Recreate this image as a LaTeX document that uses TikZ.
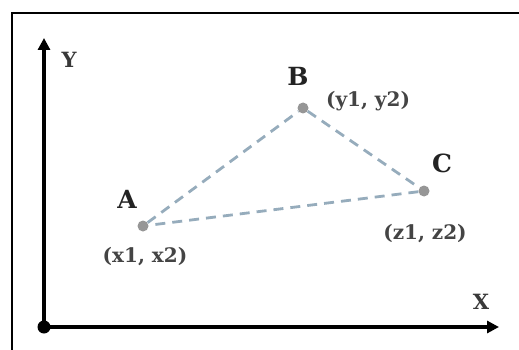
\documentclass[tikz,border=0pt]{standalone}
\usepackage{fontspec}
\setmainfont{DejaVu Serif}
\usetikzlibrary{arrows.meta}
\definecolor{dashc}{RGB}{150,172,188}
\definecolor{dotc}{RGB}{150,150,150}
\definecolor{txt}{RGB}{35,35,35}
\begin{document}
\begin{tikzpicture}[x=1pt,y=-1pt,
  pt/.style={circle,fill=dotc,inner sep=0pt,minimum size=11pt},
  letter/.style={font=\fontsize{25}{28}\selectfont\bfseries,text=txt,inner sep=0pt},
  axlabel/.style={font=\fontsize{21}{24}\selectfont\bfseries,text=txt!90,inner sep=0pt},
  coord/.style={font=\fontsize{20}{22}\selectfont\bfseries,text=txt!85,inner sep=0pt},
  axis/.style={line width=4pt,black,-{Triangle[length=12pt,width=12pt]}},
  side/.style={dashc,line width=2.8pt,dash pattern=on 10pt off 7pt}]
\useasboundingbox (0,0) rectangle (519,350);
% frame
\draw[line width=2pt] (12,350) -- (12,13) -- (519,13);
% axes
\coordinate (O) at (44,327);
\coordinate (Yt) at (44,38);
\coordinate (Xt) at (499,327);
\draw[axis] (O) -- (Yt);
\draw[axis] (O) -- (Xt);
\fill (O) circle (6.5pt);
\node[axlabel] (ylab) at (69,60) {Y};
\node[axlabel] (xlab) at (481,302) {X};
% points
\node[pt] (A) at (143,226) {};
\node[pt] (B) at (303,108) {};
\node[pt] (C) at (424,191) {};
\draw[side] (A) -- (B);
\draw[side] (B) -- (C);
\draw[side] (C) -- (A);
% labels
\node[letter] (la) at (127,199) {A};
\node[letter] (lb) at (298,76) {B};
\node[letter] (lc) at (442,163) {C};
\node[coord] (ca) at (145,257) {(x1, x2)};
\node[coord] (cb) at (368,101) {(y1, y2)};
\node[coord] (cc) at (425,234) {(z1, z2)};
\end{tikzpicture}
\end{document}
